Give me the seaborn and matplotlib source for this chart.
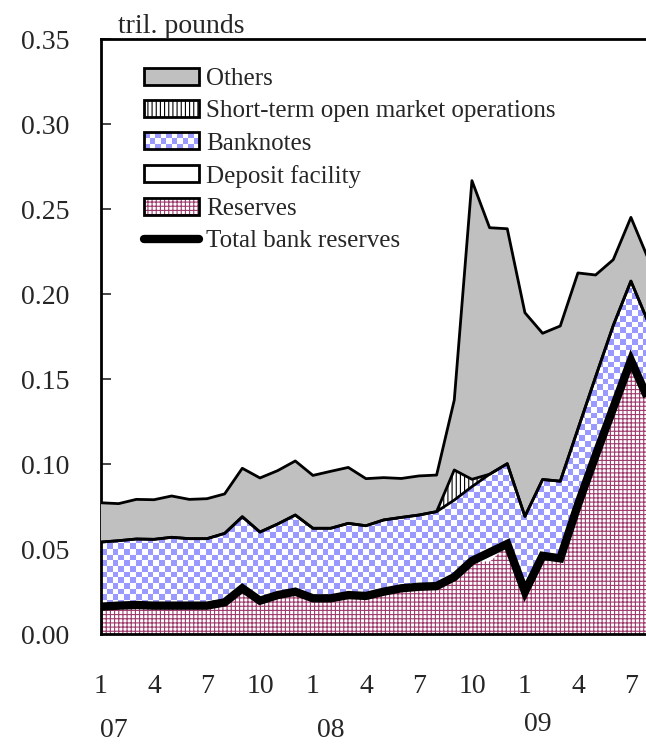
import numpy as np
import pandas as pd
import matplotlib
matplotlib.use('Agg')
import matplotlib.pyplot as plt
import seaborn as sns
from matplotlib.patches import Patch, Rectangle
from matplotlib.lines import Line2D
from matplotlib.legend_handler import HandlerBase

# monthly, Jan 2007 .. Sep 2009 (trillion pounds)
months = list(range(33))
reserves = [0.0161, 0.0167, 0.0171, 0.0167, 0.0167, 0.0167, 0.0167, 0.0186, 0.0269, 0.0196,
            0.0229, 0.0249, 0.0210, 0.0210, 0.0229, 0.0224, 0.0249, 0.0269, 0.0278, 0.0282,
            0.0335, 0.0430, 0.0430, 0.0530, 0.0249, 0.0460, 0.0445, 0.0760, 0.1050, 0.1330,
            0.1610, 0.1376, 0.1370]
deposit = [0.0] * 22 + [0.005] + [0.0] * 10
banknotes = [0.0380, 0.0382, 0.0388, 0.0390, 0.0402, 0.0394, 0.0394, 0.0406, 0.0421, 0.0404,
             0.0418, 0.0451, 0.0412, 0.0412, 0.0422, 0.0413, 0.0422, 0.0417, 0.0422, 0.0438,
             0.0453, 0.0437, 0.0460, 0.0472, 0.0443, 0.0449, 0.0454, 0.0446, 0.0463, 0.0485,
             0.0466, 0.0453, 0.0480]
omo = [0.0] * 20 + [0.0177, 0.0043] + [0.0] * 11
others = [0.0231, 0.0218, 0.0233, 0.0233, 0.0243, 0.0231, 0.0235, 0.0232, 0.0285, 0.0318,
          0.0314, 0.0318, 0.0311, 0.0335, 0.0329, 0.0277, 0.0249, 0.0229, 0.0230, 0.0215,
          0.0411, 0.1757, 0.1450, 0.1382, 0.1198, 0.0860, 0.0913, 0.0918, 0.0599, 0.0387,
          0.0375, 0.0373, 0.0390]
total_bank_reserves = [0.0161, 0.0167, 0.0171, 0.0167, 0.0167, 0.0167, 0.0167, 0.0186, 0.0269, 0.0196,
                       0.0229, 0.0249, 0.0210, 0.0210, 0.0229, 0.0224, 0.0249, 0.0269, 0.0278, 0.0282,
                       0.0335, 0.0430, 0.0480, 0.0530, 0.0249, 0.0460, 0.0445, 0.0760, 0.1050, 0.1330,
                       0.1610, 0.1376, 0.1370]
month_labels = ['1', '4', '7', '10', '1', '4', '7', '10', '1', '4', '7']
year_labels = ['07', '08', '09']

df = pd.DataFrame({'month': months, 'reserves': reserves, 'deposit': deposit,
                   'banknotes': banknotes, 'omo': omo, 'others': others,
                   'total': total_bank_reserves})
x = df['month'].values
l1 = df['reserves'].values
l2 = l1 + df['deposit'].values
l3 = l2 + df['banknotes'].values
l4 = l3 + df['omo'].values
l5 = l4 + df['others'].values

sns.set_style('white')
plt.rcParams['font.family'] = ['Liberation Serif', 'DejaVu Serif']
plt.rcParams['hatch.linewidth'] = 0.8

BLUE = '#9999ff'
MAROON = '#9e3a6c'

fig = plt.figure(figsize=(6.46, 7.46), dpi=100)
ax = fig.add_axes([0.1563, 0.1501, 0.86, 0.7976])

# reserves: white with maroon grid
ax.fill_between(x, 0, l1, facecolor='white', edgecolor=MAROON, hatch='++++', linewidth=0, zorder=1)
# deposit facility
ax.fill_between(x, l1, l2, facecolor='white', edgecolor='black', linewidth=0, zorder=1)
# banknotes: blue checkerboard clipped to the band
poly = ax.fill_between(x, l2, l3, facecolor='none', edgecolor='none', linewidth=0, zorder=2)
nx, ny = 97, 105
ii, jj = np.meshgrid(np.arange(nx), np.arange(ny))
chk = ((ii + jj) % 2).astype(float)
img = ax.imshow(chk, extent=[0, 32, 0, 0.35], origin='lower', aspect='auto',
                cmap=matplotlib.colors.ListedColormap([BLUE, 'white']),
                interpolation='nearest', zorder=2)
img.set_clip_path(poly.get_paths()[0], transform=ax.transData)
# short-term OMO
ax.fill_between(x, l3, l4, facecolor='white', edgecolor='black', hatch='||||', linewidth=0, zorder=3)
# others
ax.fill_between(x, l4, l5, facecolor='#c0c0c0', edgecolor='none', linewidth=0, zorder=3)
# boundaries
ax.plot(x, l5, color='black', lw=2, zorder=4)
ax.plot(x, l4, color='black', lw=2, zorder=4)
ax.plot(x, l3, color='black', lw=2, zorder=4)
sns.lineplot(data=df, x='month', y='total', color='black', lw=6, ax=ax, zorder=5,
             solid_capstyle='butt', solid_joinstyle='miter')

ax.set_xlim(0, 31.45)
ax.set_ylim(0, 0.35)
ax.set_yticks(np.arange(0, 0.351, 0.05))
ax.set_yticklabels([f'{v:.2f}' for v in np.arange(0, 0.351, 0.05)])
ax.set_xticks(range(0, 31, 3))
ax.set_xticklabels(month_labels)
ax.tick_params(axis='y', direction='in', length=7, width=1.2, pad=23, labelsize=20, left=True)
ax.tick_params(axis='x', length=0, pad=29, labelsize=20)
ax.set_xlabel('')
ax.set_ylabel('')
for s in ['left', 'top', 'bottom']:
    ax.spines[s].set_color('black')
    ax.spines[s].set_linewidth(2)
    ax.spines[s].set_visible(True)
ax.spines['right'].set_visible(False)

for lab, xp, yp in zip(year_labels, [0.75, 13.0, 24.75], [-0.0565, -0.0565, -0.0535]):
    ax.text(xp, yp, lab, ha='center', va='center', fontsize=20, clip_on=False)
ax.text(0.03, 1.0, 'tril. pounds', transform=ax.transAxes, ha='left', va='bottom', fontsize=20)


class BoxHandler(HandlerBase):
    # legend box: checkerboard or hatch fill with a black outline
    def __init__(self, kind):
        super().__init__()
        self.kind = kind

    def create_artists(self, legend, orig_handle, xdescent, ydescent, width, height, fontsize, trans):
        arts = []
        x0, y0 = -xdescent, -ydescent
        if self.kind == 'checker':
            ncx, ncy = 10, 3
            cw, ch = width / ncx, height / ncy
            for i in range(ncx):
                for j in range(ncy):
                    c = BLUE if (i + j) % 2 == 0 else 'white'
                    arts.append(Rectangle((x0 + i * cw, y0 + j * ch), cw, ch,
                                          facecolor=c, edgecolor='none', transform=trans))
        else:
            arts.append(Rectangle((x0, y0), width, height, facecolor='white',
                                  edgecolor=MAROON, hatch='++++', lw=0, transform=trans))
        arts.append(Rectangle((x0, y0), width, height, facecolor='none',
                              edgecolor='black', lw=2, transform=trans))
        return arts


handles = [
    Patch(facecolor='#c0c0c0', edgecolor='black', lw=2),
    Patch(facecolor='white', edgecolor='black', hatch='||||', lw=2),
    Patch(facecolor=BLUE, edgecolor='black', lw=2),
    Patch(facecolor='white', edgecolor='black', lw=2),
    Patch(facecolor='white', edgecolor=MAROON, hatch='++++', lw=2),
    Line2D([], [], color='black', lw=6, solid_capstyle='round'),
]
labels = ['Others', 'Short-term open market operations', 'Banknotes', 'Deposit facility',
          'Reserves', 'Total bank reserves']
leg = ax.legend(handles, labels, loc='upper left', bbox_to_anchor=(0.078, 0.952),
                frameon=False, fontsize=18, handlelength=2.2, handleheight=0.68,
                handletextpad=0.28, labelspacing=0.4, borderaxespad=0, borderpad=0,
                handler_map={handles[2]: BoxHandler('checker'),
                             handles[4]: BoxHandler('grid')})
leg.set_zorder(10)

plt.savefig('out.png', dpi=100)
